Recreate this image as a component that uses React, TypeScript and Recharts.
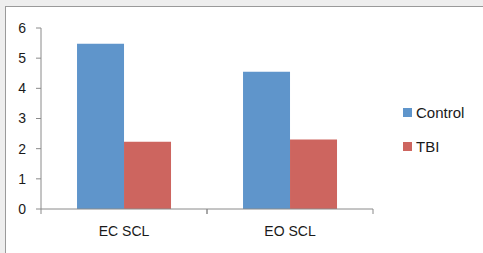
import React from 'react';
import { BarChart, Bar, XAxis, YAxis, Legend } from 'recharts';

const categories = ['EC SCL', 'EO SCL'];
const controlValues = [5.48, 4.55];
const tbiValues = [2.23, 2.3];
const yTicks = [0, 1, 2, 3, 4, 5, 6];

const data = categories.map((c, i) => ({ name: c, Control: controlValues[i], TBI: tbiValues[i] }));

const W = 483;
const H = 253;
const M = { top: 28, right: 110, bottom: 0, left: 0 };
const Y_W = 41;
const X_H = 44;
const PLOT_W = W - M.left - M.right - Y_W;
const BAND = PLOT_W / categories.length;
const AXIS = '#8a8a8a';
const FONT = 'Liberation Sans, Arial, sans-serif';

const XTick = (props: any) => {
  const { x, y, payload } = props;
  return (
    <g>
      <line x1={x - BAND / 2} x2={x - BAND / 2} y1={y} y2={y + 5} stroke={AXIS} />
      <line x1={x + BAND / 2} x2={x + BAND / 2} y1={y} y2={y + 5} stroke={AXIS} />
      <text x={x} y={y + 27} textAnchor="middle" fontSize={14} fontFamily={FONT} fill="#1a1a1a">
        {payload.value}
      </text>
    </g>
  );
};

const LegendContent = (props: any) => {
  const items = props.payload || [];
  return (
    <div style={{ fontFamily: FONT, fontSize: 15, color: '#1a1a1a' }}>
      {items.map((it: any) => (
        <div key={it.value} style={{ display: 'flex', alignItems: 'center', height: 24, marginBottom: 10 }}>
          <span style={{ display: 'inline-block', width: 9, height: 9, background: it.color, marginRight: 4 }} />
          <span>{it.value}</span>
        </div>
      ))}
    </div>
  );
};

export default function App() {
  return (
    <div style={{ position: 'absolute', left: 0, top: 0, width: W, height: H, background: '#eeeeee', overflow: 'hidden' }}>
      <div
        style={{
          position: 'absolute',
          left: 5,
          top: 6,
          width: W,
          height: H - 7,
          background: '#ffffff',
          border: '1px solid #9a9a9a',
        }}
      />
      <div style={{ position: 'absolute', left: 0, top: 0 }}>
        <BarChart width={W} height={H} data={data} margin={M} barCategoryGap="21.7%" barGap={0}>
          <XAxis
            dataKey="name"
            height={X_H}
            axisLine={{ stroke: AXIS }}
            tickLine={false}
            tickSize={0}
            tickMargin={0}
            tick={<XTick />}
            interval={0}
          />
          <YAxis
            width={Y_W}
            domain={[0, 6]}
            ticks={yTicks}
            axisLine={{ stroke: AXIS }}
            tickLine={{ stroke: AXIS }}
            tickSize={5}
            tickMargin={10}
            tick={{ fontSize: 14, fontFamily: FONT, fill: '#1a1a1a' }}
            interval={0}
          />
          <Legend
            layout="vertical"
            align="center"
            verticalAlign="middle"
            wrapperStyle={{ left: 403, top: 100, width: 80 }}
            content={<LegendContent />}
          />
          <Bar dataKey="Control" fill="#5f95cb" isAnimationActive={false} />
          <Bar dataKey="TBI" fill="#cd655f" isAnimationActive={false} />
        </BarChart>
      </div>
    </div>
  );
}
